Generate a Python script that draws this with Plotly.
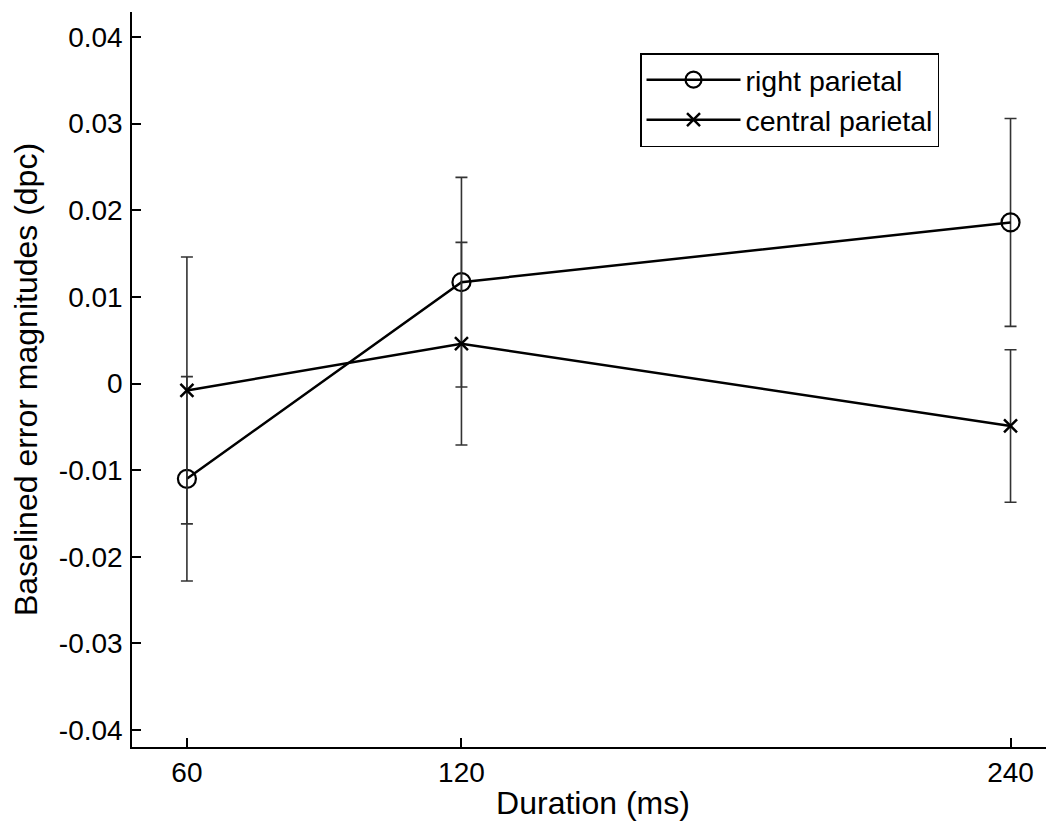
import plotly.graph_objects as go

durations = [60, 120, 240]
right_parietal = [-0.0110, 0.0117, 0.0186]
right_parietal_err = [0.0118, 0.0121, 0.0120]
central_parietal = [-0.0008, 0.0046, -0.0049]
central_parietal_err = [0.0154, 0.0117, 0.0088]

x_ticks = [60, 120, 240]
y_ticks = [-0.04, -0.03, -0.02, -0.01, 0, 0.01, 0.02, 0.03, 0.04]
y_tick_text = ["-0.04", "-0.03", "-0.02", "-0.01", "0", "0.01", "0.02", "0.03", "0.04"]

FONT = "Liberation Sans, Arial, Helvetica, sans-serif"

fig = go.Figure()
fig.add_trace(go.Scatter(
    x=durations, y=right_parietal, name="right parietal",
    mode="lines+markers",
    line=dict(color="black", width=2.5),
    marker=dict(symbol="circle-open", size=18, color="black", line=dict(width=2.2, color="black")),
    error_y=dict(type="data", array=right_parietal_err, visible=True,
                 color="#333333", thickness=1.6, width=6),
))
fig.add_trace(go.Scatter(
    x=durations, y=central_parietal, name="central parietal",
    mode="lines+markers",
    line=dict(color="black", width=2.5),
    marker=dict(symbol="x-thin-open", size=13, color="black", line=dict(width=2.5, color="black")),
    error_y=dict(type="data", array=central_parietal_err, visible=True,
                 color="#333333", thickness=1.6, width=6),
))

axis_common = dict(
    showgrid=False, zeroline=False, showline=True, linecolor="black", linewidth=1.5,
    ticks="inside", ticklen=9, tickwidth=1.5, tickcolor="black",
    tickfont=dict(family=FONT, size=28, color="black"),
)
fig.update_xaxes(
    range=[48, 249.5], tickmode="array", tickvals=x_ticks,
    title=dict(text="Duration (ms)", font=dict(family=FONT, size=32, color="black"), standoff=4),
    **axis_common,
)
fig.update_yaxes(
    range=[-0.04196, 0.04289], tickmode="array", tickvals=y_ticks, ticktext=y_tick_text,
    title=dict(text="Baselined error magnitudes (dpc)", font=dict(family=FONT, size=32, color="black"), standoff=12),
    ticklabelstandoff=2,
    **axis_common,
)
fig.update_layout(
    width=1046, height=819,
    margin=dict(l=124, r=0, t=4, b=80),
    paper_bgcolor="white", plot_bgcolor="white",
    font=dict(family=FONT, color="black"),
    legend=dict(
        x=0.551, y=0.944, xanchor="left", yanchor="top",
        bgcolor="white", bordercolor="black", borderwidth=1.5,
        font=dict(family=FONT, size=28.5, color="black"),
        itemwidth=94,
    ),
)
fig.write_html("out.html")
